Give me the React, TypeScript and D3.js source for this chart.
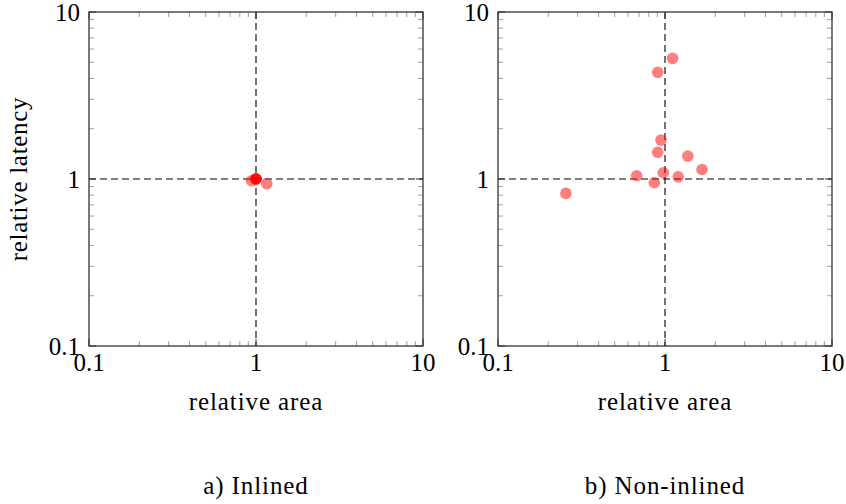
import React from 'react';
import * as d3 from 'd3';

// relative area / relative latency, one pair per kernel
const inlinedArea = [1, 1, 1, 1, 0.94, 1.16];
const inlinedLatency = [1, 1, 1, 1, 0.977, 0.937];

const nonInlinedArea = [1.11, 0.904, 0.946, 0.904, 1.37, 1.666, 0.977, 1.2, 0.677, 0.863, 0.255];
const nonInlinedLatency = [5.28, 4.35, 1.71, 1.445, 1.37, 1.14, 1.09, 1.03, 1.046, 0.95, 0.82];

const majorTicks = [0.1, 1, 10];
const minorTicks = [0.2, 0.3, 0.4, 0.5, 0.6, 0.7, 0.8, 0.9, 2, 3, 4, 5, 6, 7, 8, 9];
const tickLabels = ['0.1', '1', '10'];

const FONT = '"Liberation Serif", serif';
const SIZE = 334;
const TOP = 12;

function Panel({left, area, latency, caption, showYLabels}: {
    left: number; area: number[]; latency: number[]; caption: string; showYLabels: boolean;
}) {
    const x = d3.scaleLog().domain([0.1, 10]).range([0, SIZE]);
    const y = d3.scaleLog().domain([0.1, 10]).range([SIZE, 0]);
    const pts = area.map((a, i) => [a, latency[i]]);

    return (
        <g transform={`translate(${left}, ${TOP})`}>
            {/* reference lines */}
            <line x1={0} x2={SIZE} y1={y(1)} y2={y(1)} stroke="#000" strokeWidth={1.1} strokeDasharray="7 4" />
            <line x1={x(1)} x2={x(1)} y1={0} y2={SIZE} stroke="#000" strokeWidth={1.1} strokeDasharray="7 4" />

            {/* minor ticks, pointing inward on every side */}
            {minorTicks.map(t => (
                <g key={t} stroke="#888" strokeWidth={0.8}>
                    <line x1={x(t)} x2={x(t)} y1={SIZE} y2={SIZE - 5} />
                    <line x1={x(t)} x2={x(t)} y1={0} y2={5} />
                    <line x1={0} x2={5} y1={y(t)} y2={y(t)} />
                    <line x1={SIZE} x2={SIZE - 5} y1={y(t)} y2={y(t)} />
                </g>
            ))}
            {majorTicks.map(t => (
                <g key={t} stroke="#333" strokeWidth={1}>
                    <line x1={x(t)} x2={x(t)} y1={SIZE} y2={SIZE - 7} />
                    <line x1={x(t)} x2={x(t)} y1={0} y2={7} />
                    <line x1={0} x2={7} y1={y(t)} y2={y(t)} />
                    <line x1={SIZE} x2={SIZE - 7} y1={y(t)} y2={y(t)} />
                </g>
            ))}

            <rect x={0} y={0} width={SIZE} height={SIZE} fill="none" stroke="#333" strokeWidth={1.3} />

            {pts.map((d, i) => (
                <circle key={i} cx={x(d[0])} cy={y(d[1])} r={5.8} fill="#ff0000" fillOpacity={0.5} />
            ))}

            {/* tick labels */}
            {majorTicks.map((t, i) => (
                <text key={'x' + t} x={x(t)} y={SIZE + 25} textAnchor="middle"
                    fontFamily={FONT} fontSize={25}>{tickLabels[i]}</text>
            ))}
            {majorTicks.map((t, i) => (
                <text key={'y' + t} x={-9} y={y(t)} dy="0.35em" textAnchor="end"
                    fontFamily={FONT} fontSize={25}>{tickLabels[i]}</text>
            ))}

            <text x={SIZE / 2} y={SIZE + 64} textAnchor="middle" fontFamily={FONT} fontSize={25}
                letterSpacing={0.9}>relative area</text>
            {showYLabels && (
                <text transform={`translate(-62, ${SIZE / 2}) rotate(-90)`} textAnchor="middle"
                    fontFamily={FONT} fontSize={25} letterSpacing={0.7}>relative latency</text>
            )}
            <text x={SIZE / 2} y={SIZE + 148} textAnchor="middle" fontFamily={FONT} fontSize={25}
                letterSpacing={0.9}>{caption}</text>
        </g>
    );
}

export default function App() {
    return (
        <svg width={846} height={504} style={{display: 'block', position: 'absolute', left: 0, top: 0, background: '#fff'}}>
            <Panel left={89} area={inlinedArea} latency={inlinedLatency} caption="a) Inlined" showYLabels={true} />
            <Panel left={498} area={nonInlinedArea} latency={nonInlinedLatency} caption="b) Non-inlined" showYLabels={false} />
        </svg>
    );
}
